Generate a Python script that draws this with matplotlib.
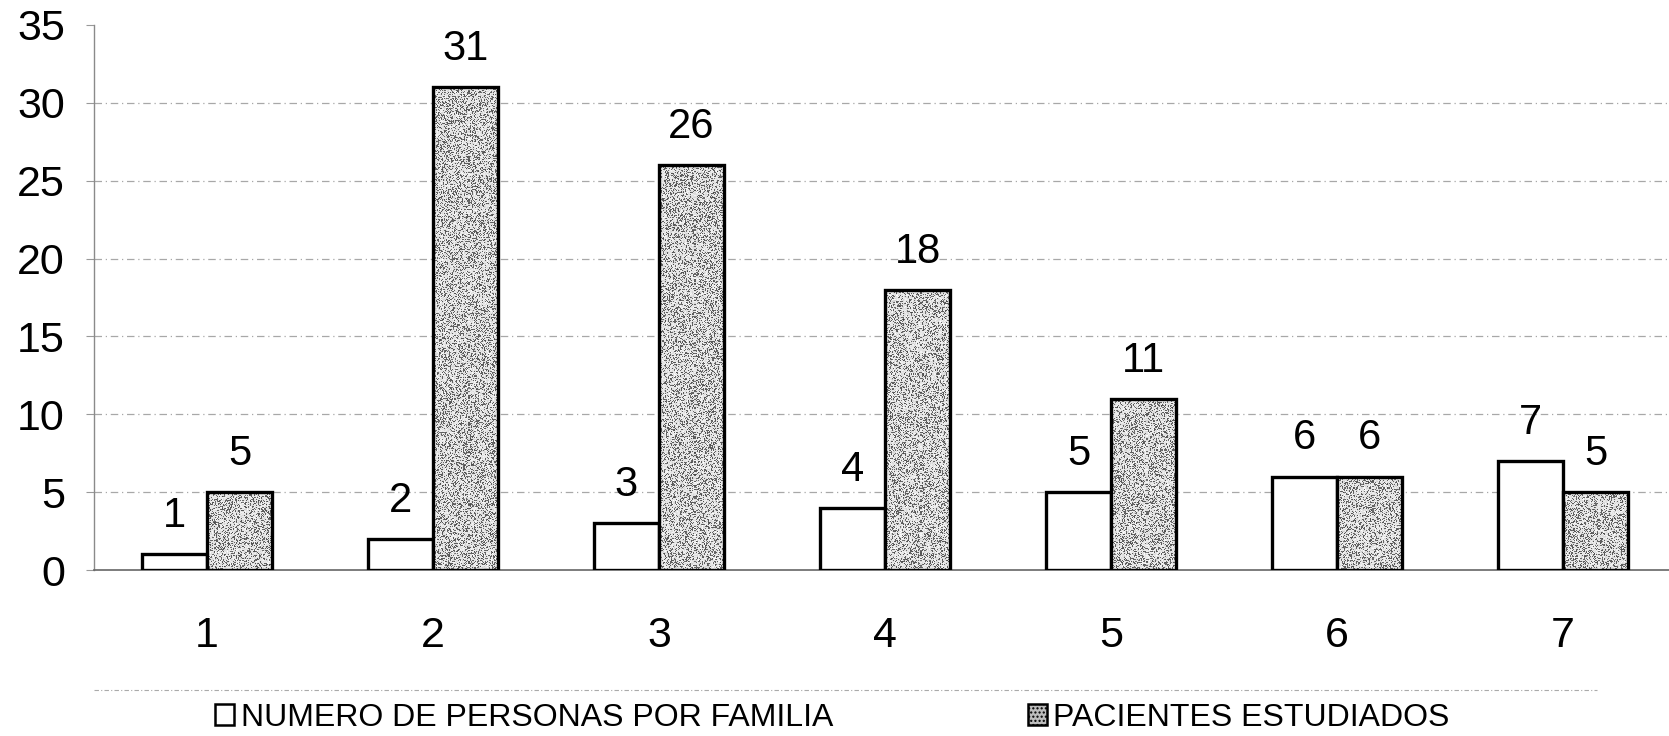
import numpy as np
import matplotlib
matplotlib.use("Agg")
import matplotlib.pyplot as plt
from matplotlib.patches import Patch
from matplotlib.lines import Line2D

plt.rcParams['font.family'] = ['Liberation Sans', 'DejaVu Sans']

# datos
categorias = [1, 2, 3, 4, 5, 6, 7]
personas_familia = [1, 2, 3, 4, 5, 6, 7]
pacientes = [5, 31, 26, 18, 11, 6, 5]
etiquetas_y = [0, 5, 10, 15, 20, 25, 30, 35]
serie1 = "NUMERO DE PERSONAS POR FAMILIA"
serie2 = "PACIENTES ESTUDIADOS"

W, H = 1669, 736
fig = plt.figure(figsize=(W / 100, H / 100), dpi=100)
ax = fig.add_axes([94 / W, 166 / H, (1676 - 94) / W, 545 / H])

x = np.array(categorias, dtype=float)
ancho = 0.288

# lineas de la cuadricula
for v in etiquetas_y[1:-1]:
    ax.axhline(v, color='#a8a8a8', lw=0.9, ls=(0, (6, 3, 1, 3)), zorder=0)

b1 = ax.bar(x - ancho / 2, personas_familia, ancho, facecolor='white',
            edgecolor='black', lw=2.4, zorder=3)
b2 = ax.bar(x + ancho / 2, pacientes, ancho, facecolor='none',
            edgecolor='black', lw=2.4, zorder=4)

# textura punteada para las barras grises
rng = np.random.default_rng(3)
ph, pw = 545, 1582
tex = np.where(rng.random((ph, pw)) < 0.3, 0.38, 0.9)
tex = tex + rng.normal(0, 0.04, (ph, pw))
for r in b2:
    im = ax.imshow(tex, cmap='gray', vmin=0, vmax=1, extent=(0.5, 7.5, 0, 35),
                   aspect='auto', interpolation='nearest', zorder=3.5)
    im.set_clip_path(r)
ax.set_xlim(0.5, 7.5)
ax.set_ylim(0, 35)

# valores sobre las barras
for xi, v in zip(x - ancho / 2, personas_familia):
    ax.annotate(str(v), (xi, v), xytext=(0, 19.5), textcoords='offset points',
                ha='center', va='baseline', fontsize=30)
for xi, v in zip(x + ancho / 2, pacientes):
    ax.annotate(str(v), (xi, v), xytext=(0, 19.5), textcoords='offset points',
                ha='center', va='baseline', fontsize=30)

ax.set_xticks(x)
ax.set_xticklabels([str(c) for c in categorias])
ax.set_yticks(etiquetas_y)
ax.tick_params(axis='x', length=0, pad=33, labelsize=31)
ax.tick_params(axis='y', length=6, width=0.8, color='#999999', pad=15, labelsize=31)

for s in ['top', 'right']:
    ax.spines[s].set_visible(False)
ax.spines['left'].set_color('#8a8a8a')
ax.spines['left'].set_linewidth(1.0)
ax.spines['left'].set_linestyle((0, (8, 1)))
ax.spines['bottom'].set_color('#666666')
ax.spines['bottom'].set_linewidth(1.2)

# leyenda
h1 = Patch(facecolor='white', edgecolor='black', lw=1.8)
h2 = Patch(facecolor='#bdbdbd', edgecolor='black', lw=1.8, hatch='....')
fig.legend([h1, h2], [serie1, serie2], loc='center left',
           bbox_to_anchor=(215 / W, 1 - 718 / H), ncol=2, frameon=False,
           fontsize=23, handlelength=0.6, handleheight=0.65,
           handletextpad=0.2, columnspacing=6.1, borderpad=0, borderaxespad=0)
fig.add_artist(Line2D([94 / W, 1597 / W], [1 - 690 / H, 1 - 690 / H],
                      transform=fig.transFigure, color='#aaaaaa', lw=0.8,
                      ls=(0, (4, 2, 1, 2))))

fig.savefig('out.png', dpi=100)
